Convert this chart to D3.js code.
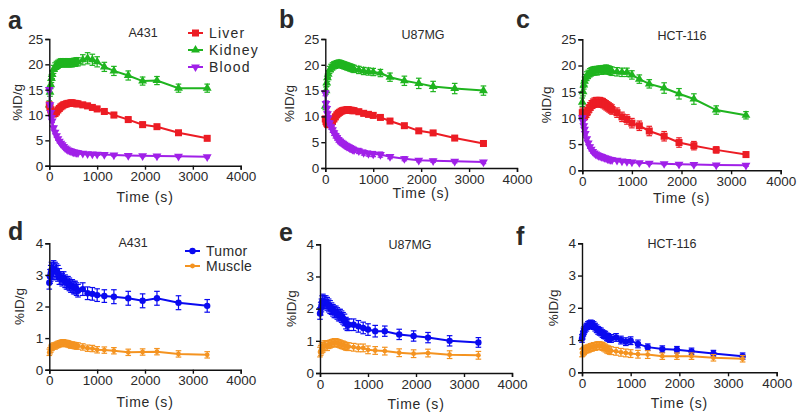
<!DOCTYPE html>
<html><head><meta charset="utf-8">
<script src="https://cdn.jsdelivr.net/npm/d3@7"></script>
<style>
body{margin:0;background:#fff;}
svg text{font-family:"Liberation Sans",Arial,sans-serif;fill:#2a2a2a;}
</style></head><body>
<svg id="c" width="800" height="417"></svg>
<script>
// ---- Data ----
const times = [0, 15, 30, 45, 60, 90, 120, 150, 180, 210, 240, 270, 300, 330, 360, 390, 420, 450, 480, 510, 540, 570, 600, 700, 800, 900, 1000, 1150, 1350, 1650, 1950, 2250, 2700, 3300];
const xTicks = [0, 1000, 2000, 3000, 4000];
const yTicksTop = [0, 5, 10, 15, 20, 25];
const yTicksBottom = [0, 1, 2, 3, 4];
const cellLines = ["A431", "U87MG", "HCT-116"];
const organsTop = ["Liver", "Kidney", "Blood"];
const organsBottom = ["Tumor", "Muscle"];

const kidneyA431 = [12, 14.5, 16, 17.2, 18, 19, 19.5, 19.8, 20, 20.2, 20.3, 20.3, 20.3, 20.3, 20.3, 20.3, 20.3, 20.3, 20.3, 20.4, 20.4, 20.5, 20.5, 20.9, 21.2, 20.9, 20.5, 19.5, 18.7, 17.8, 16.7, 16.8, 15.3, 15.3];
const kidneyA431Err = [0.8, 0.8, 0.8, 0.8, 0.8, 0.8, 0.8, 0.8, 0.8, 0.8, 0.8, 0.8, 0.8, 0.8, 0.8, 0.8, 0.8, 0.8, 0.8, 0.8, 0.8, 0.8, 0.8, 1.0, 1.1, 1.1, 1.0, 0.9, 0.9, 0.9, 0.8, 0.8, 0.8, 0.8];
const liverA431 = [12, 11.5, 11, 10.6, 10.3, 10.2, 10.3, 10.6, 11, 11.3, 11.6, 11.8, 12, 12.1, 12.2, 12.3, 12.3, 12.4, 12.4, 12.3, 12.3, 12.2, 12.2, 12, 11.8, 11.5, 11.2, 10.7, 10, 9.1, 8.1, 7.7, 6.5, 5.4];
const liverA431Err = [0.5, 0.5, 0.5, 0.5, 0.5, 0.5, 0.5, 0.5, 0.5, 0.5, 0.5, 0.5, 0.5, 0.5, 0.5, 0.5, 0.5, 0.5, 0.5, 0.5, 0.5, 0.5, 0.5, 0.5, 0.5, 0.5, 0.5, 0.5, 0.5, 0.5, 0.5, 0.4, 0.4, 0.4];
const bloodA431 = [15, 12, 10.5, 9.5, 8.8, 7.5, 6.6, 5.9, 5.3, 4.8, 4.4, 4.1, 3.8, 3.5, 3.3, 3.1, 3, 2.9, 2.8, 2.7, 2.65, 2.6, 2.55, 2.45, 2.35, 2.3, 2.25, 2.2, 2.1, 2, 1.95, 1.9, 1.85, 1.75];
const bloodA431Err = [0.4, 0.4, 0.3, 0.3, 0.3, 0.3, 0.3, 0.3, 0.3, 0.3, 0.2, 0.2, 0.2, 0.2, 0.2, 0.2, 0.2, 0.2, 0.2, 0.2, 0.2, 0.2, 0.2, 0.2, 0.2, 0.2, 0.2, 0.2, 0.2, 0.2, 0.2, 0.2, 0.2, 0.2];

const kidneyU87 = [12, 15, 16.5, 17.5, 18.2, 19, 19.4, 19.7, 19.9, 20, 20.1, 20.2, 20.2, 20.1, 20, 19.9, 19.8, 19.7, 19.6, 19.5, 19.4, 19.3, 19.2, 19, 18.8, 18.7, 18.6, 18.4, 17.6, 16.9, 16.4, 15.8, 15.4, 15];
const kidneyU87Err = [0.7, 0.7, 0.7, 0.7, 0.7, 0.7, 0.7, 0.7, 0.7, 0.7, 0.7, 0.7, 0.7, 0.7, 0.7, 0.7, 0.7, 0.7, 0.7, 0.7, 0.7, 0.7, 0.7, 0.7, 0.7, 0.7, 0.7, 0.7, 0.8, 0.9, 1.0, 1.0, 1.0, 0.9];
const liverU87 = [9.5, 9, 8.7, 8.5, 8.4, 8.4, 8.6, 9, 9.5, 9.9, 10.3, 10.6, 10.8, 11, 11.1, 11.2, 11.2, 11.3, 11.3, 11.2, 11.2, 11.1, 11.1, 10.9, 10.6, 10.4, 10.2, 9.8, 9.1, 8.2, 7.2, 6.8, 5.8, 4.75];
const liverU87Err = [0.5, 0.5, 0.5, 0.5, 0.5, 0.5, 0.5, 0.5, 0.5, 0.5, 0.5, 0.5, 0.5, 0.5, 0.5, 0.5, 0.5, 0.5, 0.5, 0.5, 0.5, 0.5, 0.5, 0.5, 0.5, 0.5, 0.5, 0.4, 0.4, 0.4, 0.4, 0.3, 0.3, 0.3];
const bloodU87 = [14.5, 12.5, 11.5, 10.5, 9.7, 8.7, 8, 7.4, 6.8, 6.3, 5.9, 5.5, 5.2, 5, 4.8, 4.6, 4.4, 4.2, 4.1, 3.9, 3.8, 3.6, 3.5, 3.3, 3, 2.8, 2.7, 2.6, 2.2, 1.8, 1.5, 1.4, 1.3, 1.15];
const bloodU87Err = [0.5, 0.5, 0.5, 0.5, 0.5, 0.5, 0.5, 0.5, 0.5, 0.5, 0.5, 0.5, 0.5, 0.5, 0.5, 0.5, 0.5, 0.5, 0.5, 0.5, 0.5, 0.5, 0.5, 0.5, 0.5, 0.5, 0.5, 0.5, 0.4, 0.4, 0.3, 0.3, 0.3, 0.3];

const kidneyHCT = [13, 15, 16.3, 17, 17.5, 18, 18.3, 18.6, 18.8, 18.9, 19, 19, 19, 19.1, 19.1, 19.1, 19.2, 19.2, 19.3, 19.2, 19.1, 19, 18.9, 18.8, 18.7, 18.7, 18.2, 17.4, 16.5, 15.7, 14.6, 13.6, 11.5, 10.5];
const kidneyHCTErr = [0.8, 0.8, 0.8, 0.8, 0.8, 0.8, 0.8, 0.8, 0.8, 0.8, 0.8, 0.8, 0.8, 0.8, 0.8, 0.8, 0.8, 0.8, 0.8, 0.8, 0.8, 0.8, 0.8, 0.8, 0.8, 0.8, 0.8, 0.8, 0.8, 1.0, 1.0, 1.0, 0.8, 0.7];
const liverHCT = [11, 10.7, 10.5, 10.5, 10.6, 11, 11.5, 12, 12.4, 12.7, 12.9, 13, 13, 13, 13, 12.9, 12.8, 12.6, 12.4, 12.2, 12, 11.8, 11.6, 11, 10.2, 9.7, 9, 8.5, 7.5, 6.5, 5.3, 4.7, 3.9, 3];
const liverHCTErr = [0.9, 0.9, 0.9, 0.9, 0.9, 0.9, 0.9, 0.9, 0.9, 0.9, 0.9, 0.9, 0.9, 0.9, 0.9, 0.9, 0.9, 0.9, 0.9, 0.9, 0.9, 0.9, 0.9, 0.9, 0.9, 0.9, 0.9, 0.9, 0.9, 0.9, 0.9, 0.8, 0.6, 0.5];
const bloodHCT = [10, 9.3, 8.5, 7.8, 7, 6, 5.2, 4.5, 4, 3.6, 3.3, 3.1, 2.95, 2.8, 2.7, 2.6, 2.5, 2.4, 2.3, 2.2, 2.1, 2.05, 2, 1.9, 1.75, 1.65, 1.55, 1.45, 1.35, 1.25, 1.15, 1.1, 1, 0.95];
const bloodHCTErr = [0.3, 0.3, 0.3, 0.3, 0.3, 0.3, 0.3, 0.3, 0.3, 0.3, 0.2, 0.2, 0.2, 0.2, 0.2, 0.2, 0.2, 0.2, 0.2, 0.2, 0.2, 0.2, 0.2, 0.2, 0.2, 0.2, 0.2, 0.2, 0.2, 0.2, 0.2, 0.2, 0.2, 0.2];

const tumorA431 = [2.75, 2.95, 3.05, 3.15, 3.1, 3.2, 3.15, 3.1, 3.05, 2.95, 2.9, 2.85, 2.9, 2.8, 2.75, 2.75, 2.7, 2.65, 2.65, 2.6, 2.6, 2.55, 2.5, 2.55, 2.42, 2.4, 2.36, 2.33, 2.31, 2.26, 2.18, 2.26, 2.12, 2.02];
const tumorA431Err = [0.2, 0.22, 0.25, 0.25, 0.25, 0.25, 0.25, 0.25, 0.25, 0.25, 0.2, 0.2, 0.2, 0.2, 0.2, 0.2, 0.2, 0.2, 0.2, 0.2, 0.2, 0.2, 0.2, 0.2, 0.2, 0.2, 0.2, 0.2, 0.22, 0.22, 0.22, 0.22, 0.22, 0.2];
const muscleA431 = [0.55, 0.6, 0.65, 0.7, 0.72, 0.75, 0.75, 0.78, 0.8, 0.82, 0.83, 0.85, 0.85, 0.83, 0.83, 0.82, 0.8, 0.78, 0.78, 0.77, 0.76, 0.75, 0.75, 0.72, 0.68, 0.67, 0.63, 0.62, 0.6, 0.55, 0.56, 0.57, 0.5, 0.47];
const muscleA431Err = [0.1, 0.1, 0.1, 0.1, 0.1, 0.1, 0.1, 0.1, 0.1, 0.1, 0.1, 0.1, 0.1, 0.1, 0.1, 0.1, 0.1, 0.1, 0.1, 0.1, 0.1, 0.1, 0.1, 0.1, 0.1, 0.1, 0.1, 0.1, 0.1, 0.1, 0.1, 0.1, 0.1, 0.1];

const tumorU87 = [1.85, 2, 2.1, 2.2, 2.25, 2.2, 2.2, 2.15, 2.1, 2.05, 2, 1.95, 1.9, 1.9, 1.85, 1.8, 1.8, 1.75, 1.7, 1.65, 1.55, 1.5, 1.5, 1.5, 1.45, 1.4, 1.35, 1.3, 1.3, 1.2, 1.15, 1.1, 1, 0.95];
const tumorU87Err = [0.18, 0.2, 0.2, 0.2, 0.2, 0.2, 0.2, 0.2, 0.2, 0.2, 0.18, 0.18, 0.18, 0.18, 0.18, 0.18, 0.18, 0.18, 0.18, 0.18, 0.18, 0.18, 0.18, 0.18, 0.18, 0.18, 0.18, 0.18, 0.16, 0.16, 0.16, 0.16, 0.16, 0.15];
const muscleU87 = [0.65, 0.7, 0.75, 0.8, 0.8, 0.85, 0.85, 0.85, 0.88, 0.9, 0.92, 0.93, 0.95, 0.95, 0.93, 0.92, 0.9, 0.88, 0.87, 0.85, 0.83, 0.82, 0.82, 0.8, 0.78, 0.78, 0.72, 0.7, 0.68, 0.63, 0.6, 0.62, 0.57, 0.55];
const muscleU87Err = [0.15, 0.15, 0.15, 0.15, 0.15, 0.15, 0.15, 0.15, 0.12, 0.12, 0.12, 0.12, 0.12, 0.12, 0.12, 0.12, 0.12, 0.12, 0.12, 0.12, 0.12, 0.12, 0.12, 0.12, 0.12, 0.12, 0.12, 0.12, 0.12, 0.12, 0.12, 0.12, 0.12, 0.12];

const tumorHCT = [1.05, 1.15, 1.25, 1.3, 1.35, 1.4, 1.45, 1.48, 1.5, 1.48, 1.45, 1.4, 1.35, 1.3, 1.27, 1.25, 1.2, 1.17, 1.15, 1.1, 1.08, 1.05, 1.05, 1.08, 1, 0.95, 0.98, 0.88, 0.78, 0.72, 0.7, 0.65, 0.58, 0.5];
const tumorHCTErr = [0.12, 0.12, 0.12, 0.12, 0.12, 0.12, 0.12, 0.12, 0.12, 0.12, 0.12, 0.12, 0.12, 0.12, 0.12, 0.12, 0.12, 0.12, 0.12, 0.12, 0.12, 0.12, 0.12, 0.12, 0.12, 0.12, 0.12, 0.12, 0.1, 0.1, 0.1, 0.1, 0.1, 0.1];
const muscleHCT = [0.6, 0.62, 0.65, 0.67, 0.7, 0.72, 0.73, 0.75, 0.77, 0.78, 0.8, 0.8, 0.82, 0.83, 0.83, 0.82, 0.8, 0.78, 0.75, 0.72, 0.7, 0.68, 0.67, 0.65, 0.62, 0.6, 0.58, 0.56, 0.55, 0.5, 0.5, 0.5, 0.45, 0.42];
const muscleHCTErr = [0.12, 0.12, 0.12, 0.12, 0.12, 0.12, 0.12, 0.12, 0.12, 0.12, 0.12, 0.12, 0.12, 0.12, 0.12, 0.12, 0.12, 0.12, 0.12, 0.12, 0.12, 0.12, 0.12, 0.12, 0.12, 0.12, 0.12, 0.12, 0.12, 0.1, 0.1, 0.1, 0.1, 0.1];

// ---- Styles ----
const colors = {Liver:"#ec1c24", Kidney:"#1fb41f", Blood:"#a020e8", Tumor:"#0a0af0", Muscle:"#f49320"};
const shapes = {Liver:"square", Kidney:"triUp", Blood:"triDown", Tumor:"circle", Muscle:"circleSmall"};

// ---- Layout (positions only) ----
const panels = [
 {letter:"a", lx:8, ly:29, x0:49.3, x1:240.7, y0:39, y1:165.7, yMax:25, yTicks:yTicksTop, title:cellLines[0], tx:143, ty:37,
  series:[["Kidney",kidneyA431,kidneyA431Err],["Liver",liverA431,liverA431Err],["Blood",bloodA431,bloodA431Err]],
  ylx:17, xly:202, legend:{names:organsTop, x:188, y:33, dy:17}},
 {letter:"b", lx:279, ly:28, x0:325.3, x1:517, y0:39, y1:168, yMax:25, yTicks:yTicksTop, title:cellLines[1], tx:423, ty:39,
  series:[["Kidney",kidneyU87,kidneyU87Err],["Liver",liverU87,liverU87Err],["Blood",bloodU87,bloodU87Err]],
  ylx:289, xly:198},
 {letter:"c", lx:516, ly:28, x0:582.3, x1:780.7, y0:39.3, y1:170.3, yMax:25, yTicks:yTicksTop, title:cellLines[2], tx:682, ty:40,
  series:[["Kidney",kidneyHCT,kidneyHCTErr],["Liver",liverHCT,liverHCTErr],["Blood",bloodHCT,bloodHCTErr]],
  ylx:546, xly:203},
 {letter:"d", lx:8, ly:240, x0:49.3, x1:240.7, y0:243.3, y1:369.7, yMax:4, yTicks:yTicksBottom, title:cellLines[0], tx:133, ty:247,
  series:[["Tumor",tumorA431,tumorA431Err],["Muscle",muscleA431,muscleA431Err]],
  ylx:19, xly:407, legend:{names:organsBottom, x:185, y:251, dy:15}},
 {letter:"e", lx:279, ly:241, x0:320, x1:512, y0:244.3, y1:373, yMax:4, yTicks:yTicksBottom, title:cellLines[1], tx:410, ty:249,
  series:[["Tumor",tumorU87,tumorU87Err],["Muscle",muscleU87,muscleU87Err]],
  ylx:291, xly:409},
 {letter:"f", lx:516, ly:245, x0:582, x1:776.7, y0:243.3, y1:372.3, yMax:4, yTicks:yTicksBottom, title:cellLines[2], tx:672, ty:248,
  series:[["Tumor",tumorHCT,tumorHCTErr],["Muscle",muscleHCT,muscleHCTErr]],
  ylx:553, xly:408}
];

const svg = d3.select("#c");

function drawMarker(g, name, x, y) {
  const c = colors[name], s = shapes[name];
  if (s === "square") g.append("rect").attr("x", x-3.5).attr("y", y-3.5).attr("width",7).attr("height",7).attr("fill",c);
  else if (s === "triUp") g.append("path").attr("d", d3.symbol(d3.symbolTriangle, 34)()).attr("transform",`translate(${x},${y})`).attr("fill",c);
  else if (s === "triDown") g.append("path").attr("d", d3.symbol(d3.symbolTriangle, 34)()).attr("transform",`translate(${x},${y}) rotate(180)`).attr("fill",c);
  else if (s === "circle") g.append("circle").attr("cx",x).attr("cy",y).attr("r",3.2).attr("fill",c);
  else g.append("circle").attr("cx",x).attr("cy",y).attr("r",2.4).attr("fill",c);
}

panels.forEach(p => {
  const xs = d3.scaleLinear().domain([0,4000]).range([p.x0,p.x1]);
  const ys = d3.scaleLinear().domain([0,p.yMax]).range([p.y1,p.y0]);
  const g = svg.append("g");

  p.series.forEach(([name, vals, errs]) => {
    const c = colors[name];
    const pts = times.map((t,i)=>({t, v:vals[i], e:errs[i]}));
    const sg = g.append("g");
    pts.forEach(d => {
      const x = xs(d.t), yl = ys(d.v - d.e), yh = ys(d.v + d.e);
      sg.append("line").attr("x1",x).attr("x2",x).attr("y1",yl).attr("y2",yh).attr("stroke",c).attr("stroke-width",1.2);
      sg.append("line").attr("x1",x-2.8).attr("x2",x+2.8).attr("y1",yl).attr("y2",yl).attr("stroke",c).attr("stroke-width",1.2);
      sg.append("line").attr("x1",x-2.8).attr("x2",x+2.8).attr("y1",yh).attr("y2",yh).attr("stroke",c).attr("stroke-width",1.2);
    });
    sg.append("path").datum(pts)
      .attr("d", d3.line().x(d=>xs(d.t)).y(d=>ys(d.v)))
      .attr("fill","none").attr("stroke",c).attr("stroke-width",2);
    pts.forEach(d => drawMarker(sg, name, xs(d.t), ys(d.v)));
  });

  const xa = g.append("g").attr("transform",`translate(0,${p.y1})`)
    .call(d3.axisBottom(xs).tickValues(xTicks).tickSize(4).tickPadding(2).tickFormat(d3.format("d")));
  const ya = g.append("g").attr("transform",`translate(${p.x0},0)`)
    .call(d3.axisLeft(ys).tickValues(p.yTicks).tickSize(4).tickPadding(2).tickFormat(d3.format("d")));
  [xa, ya].forEach(a => {
    a.select(".domain").attr("stroke","#111").attr("stroke-width",1.4);
    a.selectAll(".tick line").attr("stroke","#111").attr("stroke-width",1.4);
    a.selectAll(".tick text").attr("font-size",13.5).attr("fill","#2a2a2a").style("font-family","'Liberation Sans',Arial,sans-serif");
  });

  g.append("text").attr("x",p.tx).attr("y",p.ty).attr("text-anchor","middle").attr("font-size",12.5).text(p.title);
  g.append("text").attr("x",(p.x0+p.x1)/2).attr("y",p.xly).attr("text-anchor","middle").attr("font-size",14)
    .attr("letter-spacing","0.8px").text("Time (s)");
  g.append("text").attr("transform",`translate(${p.ylx},${(p.y0+p.y1)/2}) rotate(-90)`).attr("text-anchor","middle")
    .attr("dy","0.35em").attr("font-size",13.5).text("%ID/g");
  g.append("text").attr("x",p.lx).attr("y",p.ly).attr("font-size",25).attr("font-weight","bold").attr("fill","#000").text(p.letter);

  if (p.legend) {
    p.legend.names.forEach((n,i) => {
      const y = p.legend.y + i*p.legend.dy;
      g.append("line").attr("x1",p.legend.x).attr("x2",p.legend.x+15).attr("y1",y).attr("y2",y).attr("stroke",colors[n]).attr("stroke-width",2);
      drawMarker(g, n, p.legend.x+7.5, y);
      g.append("text").attr("x",p.legend.x+21).attr("y",y).attr("dy","0.35em").attr("font-size",14)
        .attr("letter-spacing", p.letter==="a" ? "1.2px" : "0.3px").text(n);
    });
  }
});
</script>
</body></html>
